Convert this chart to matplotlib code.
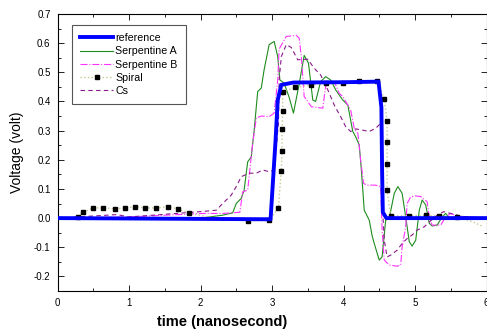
import matplotlib
matplotlib.use("Agg")
import matplotlib.pyplot as plt
from matplotlib.ticker import MultipleLocator, FormatStrFormatter

plt.rcParams['font.family'] = ['Liberation Sans', 'DejaVu Sans']

# reference pulse
ref_t = [0.0, 2.98, 3.05, 3.08, 3.13, 3.3, 4.0, 4.49, 4.53, 4.54, 4.55, 4.6, 6.0]
ref_v = [0.0, -0.004, 0.268, 0.405, 0.457, 0.465, 0.466, 0.468, 0.38, 0.16, 0.02, 0.0, 0.0]

# Serpentine A
sa_t = [0.0, 1.0, 1.75, 2.0, 2.31, 2.45, 2.50, 2.57, 2.61, 2.66, 2.71, 2.75, 2.80, 2.85, 2.89,
        2.96, 3.03, 3.08, 3.11, 3.17, 3.24, 3.30, 3.38, 3.45, 3.51, 3.57, 3.61, 3.68, 3.75,
        3.82, 3.89, 3.99, 4.06, 4.13, 4.17, 4.22, 4.25, 4.29, 4.36, 4.40, 4.43, 4.50, 4.54,
        4.59, 4.64, 4.71, 4.76, 4.82, 4.87, 4.92, 4.96, 5.01, 5.06, 5.10, 5.15, 5.20, 5.24,
        5.31, 5.38, 5.43, 5.47, 5.54, 5.65, 5.73, 5.85, 6.0]
sa_v = [0.0, 0.0, -0.004, 0.0, 0.01, 0.018, 0.05, 0.068, 0.096, 0.193, 0.21, 0.30, 0.434, 0.446,
        0.509, 0.595, 0.606, 0.554, 0.474, 0.463, 0.414, 0.36, 0.46, 0.558, 0.532, 0.405, 0.40,
        0.468, 0.485, 0.474, 0.44, 0.405, 0.388, 0.297, 0.279, 0.251, 0.165, 0.027, -0.007,
        -0.06, -0.087, -0.144, -0.133, -0.007, 0.0, 0.085, 0.108, 0.085, 0.004, -0.081, -0.096,
        -0.076, 0.027, 0.062, 0.045, -0.018, -0.027, -0.024, 0.004, 0.016, 0.002, 0.0, 0.006,
        0.004, 0.0, 0.002]

# Serpentine B
sb_t = [0.0, 1.0, 2.03, 2.17, 2.31, 2.55, 2.59, 2.66, 2.69, 2.73, 2.78, 2.85, 2.96, 3.03, 3.08,
        3.10, 3.20, 3.34, 3.38, 3.41, 3.45, 3.55, 3.71, 3.75, 3.80, 3.87, 3.94, 3.99, 4.10, 4.15,
        4.20, 4.24, 4.28, 4.33, 4.45, 4.52, 4.54, 4.57, 4.64, 4.75, 4.80, 4.82, 4.87, 4.89, 4.94,
        5.01, 5.08, 5.17, 5.20, 5.24, 5.36, 5.43, 5.50, 5.60, 5.80, 6.0]
sb_v = [0.0, 0.004, 0.016, 0.016, 0.016, 0.02, 0.09, 0.096, 0.165, 0.257, 0.343, 0.35, 0.348,
        0.36, 0.474, 0.58, 0.623, 0.627, 0.617, 0.554, 0.417, 0.382, 0.377, 0.451, 0.468, 0.468,
        0.428, 0.417, 0.371, 0.308, 0.291, 0.199, 0.119, 0.113, 0.113, 0.108, -0.04, -0.144,
        -0.161, -0.165, -0.161, -0.099, -0.03, 0.05, 0.073, 0.076, 0.074, 0.056, 0.004, -0.024,
        -0.024, 0.004, 0.016, 0.006, 0.004, 0.0]

# Spiral (markers on most samples)
sp_t = [0.28, 0.36, 0.50, 0.64, 0.81, 0.95, 1.08, 1.22, 1.38, 1.55, 1.68, 1.84, 2.2, 2.67, 2.96,
        3.09, 3.13, 3.14, 3.14, 3.15, 3.15, 3.32, 3.54, 3.75, 3.99, 4.21, 4.47, 4.57, 4.61, 4.61,
        4.61, 4.61, 4.66, 4.92, 5.16, 5.34, 5.59, 5.80, 5.96]
sp_v = [0.004, 0.02, 0.035, 0.035, 0.032, 0.035, 0.039, 0.035, 0.035, 0.039, 0.032, 0.016, 0.0,
        -0.010, -0.008, 0.035, 0.163, 0.231, 0.305, 0.367, 0.433, 0.448, 0.456, 0.463, 0.463,
        0.471, 0.471, 0.409, 0.333, 0.261, 0.186, 0.095, 0.008, 0.008, 0.010, 0.007, 0.003,
        -0.012, -0.03]
sp_marks = [i for i in range(len(sp_t)) if i not in (12, 37, 38)]

# Cs
cs_t = [0.0, 0.83, 1.0, 1.99, 2.22, 2.31, 2.43, 2.50, 2.57, 2.68, 2.78, 2.87, 2.96, 3.03, 3.09,
        3.10, 3.13, 3.20, 3.27, 3.36, 3.50, 3.59, 3.68, 3.78, 3.87, 3.96, 4.03, 4.10, 4.17, 4.26,
        4.36, 4.45, 4.52, 4.54, 4.55, 4.57, 4.61, 4.66, 4.75, 4.82, 4.89, 4.96, 5.03, 5.13, 5.20,
        5.31, 5.40, 5.50, 5.64, 5.80, 6.0]
cs_v = [0.0, 0.012, 0.004, 0.022, 0.027, 0.05, 0.079, 0.108, 0.142, 0.154, 0.154, 0.165, 0.159,
        0.165, 0.325, 0.474, 0.554, 0.595, 0.585, 0.543, 0.545, 0.514, 0.491, 0.44, 0.388, 0.348,
        0.314, 0.297, 0.306, 0.302, 0.297, 0.308, 0.325, 0.245, 0.016, -0.076, -0.133, -0.127,
        -0.11, -0.087, -0.07, -0.058, -0.041, -0.03, -0.013, 0.01, 0.022, 0.016, 0.007, 0.002, 0.0]

fig = plt.figure(figsize=(4.87, 3.31), dpi=100)
ax = fig.add_axes([57.5 / 487, 1 - 291 / 331, 429 / 487, 277 / 331])

ax.plot(sp_t, sp_v, linestyle=':', color='#c8c890', linewidth=1.0, marker='s',
        markersize=3.2, markerfacecolor='black', markeredgecolor='black',
        markevery=sp_marks, label='Spiral', zorder=4)
ax.plot(sa_t, sa_v, color='#1e8c1e', linewidth=0.8, label='Serpentine A', zorder=3)
ax.plot(sb_t, sb_v, color='#ff33ff', linewidth=0.8, linestyle='-.', label='Serpentine B', zorder=3)
ax.plot(cs_t, cs_v, color='#8b1a8b', linewidth=0.8, linestyle=(0, (4, 3)), label='Cs', zorder=3)
ax.plot(ref_t, ref_v, color='#0000ff', linewidth=2.8, label='reference', zorder=5)

ax.set_xlim(0, 6)
ax.set_ylim(-0.25, 0.7)
ax.xaxis.set_major_locator(MultipleLocator(1))
ax.xaxis.set_minor_locator(MultipleLocator(0.5))
ax.yaxis.set_major_locator(MultipleLocator(0.1))
ax.yaxis.set_minor_locator(MultipleLocator(0.05))
ax.yaxis.set_major_formatter(FormatStrFormatter('%.1f'))
ax.tick_params(which='both', direction='in', top=True, right=True, labelsize=7, width=0.6)
ax.tick_params(which='major', length=4, pad=5)
ax.tick_params(which='minor', length=2)
for s in ax.spines.values():
    s.set_linewidth(0.8)

ax.set_xlabel('time (nanosecond)', fontsize=10.5, fontweight='bold')
ax.xaxis.set_label_coords(0.383, -0.085)
ax.set_ylabel('Voltage (volt)', fontsize=10)
ax.yaxis.set_label_coords(-0.078, 0.5)

handles, labels = ax.get_legend_handles_labels()
order = [labels.index(n) for n in ['reference', 'Serpentine A', 'Serpentine B', 'Spiral', 'Cs']]
leg = ax.legend([handles[i] for i in order], [labels[i] for i in order],
                loc='upper left', bbox_to_anchor=(0.034, 0.96), fontsize=7.7,
                fancybox=False, edgecolor='#555555', framealpha=1, handlelength=3.1,
                handletextpad=0.2, labelspacing=0.3, borderpad=0.75, borderaxespad=0)
leg.get_frame().set_linewidth(0.8)

fig.savefig('out.png', dpi=100)
